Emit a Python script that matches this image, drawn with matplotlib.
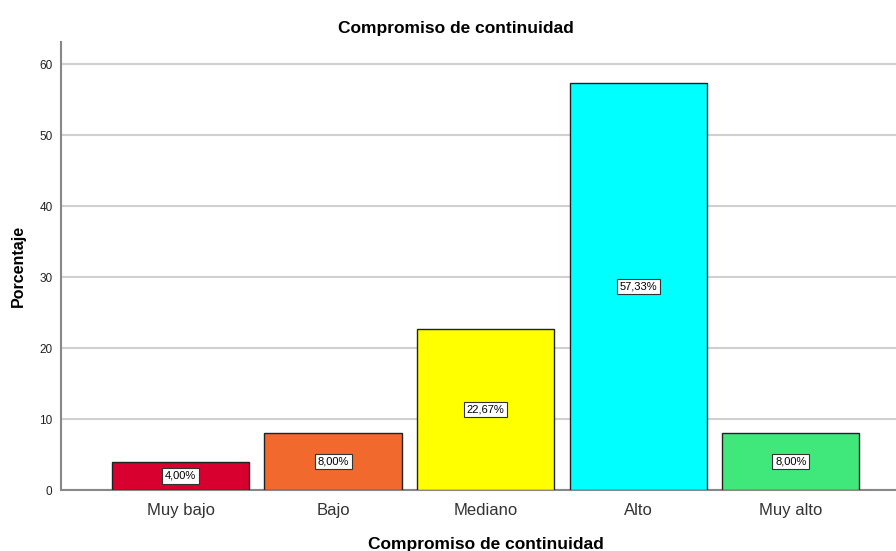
import numpy as np
import matplotlib.pyplot as plt

plt.rcParams['font.family'] = ['Liberation Sans', 'DejaVu Sans']

# frequencies by level
categorias = ['Muy bajo', 'Bajo', 'Mediano', 'Alto', 'Muy alto']
porcentajes = [4.00, 8.00, 22.67, 57.33, 8.00]
colores = ['#D7002E', '#F2692D', '#FFFF00', '#00FFFF', '#40E87C']

fig = plt.figure(figsize=(8.96, 5.51), dpi=100)
ax = fig.add_axes([0.068, 0.1107, 0.95, 0.813])

x = np.arange(len(categorias))
ax.bar(x, porcentajes, width=0.9, color=colores, edgecolor='#222222',
       linewidth=1.0, zorder=3)

# value boxes at mid-height of each bar
for xi, v in zip(x, porcentajes):
    ax.text(xi, v / 2, f'{v:.2f}%'.replace('.', ','), ha='center', va='center',
            fontsize=8, zorder=4,
            bbox=dict(boxstyle='square,pad=0.25', fc='white', ec='#333333', lw=0.8))

ax.set_xlim(-0.784, 4.796)
ax.set_ylim(0, 63.1)
ax.set_yticks(range(0, 61, 10))
ax.set_xticks(x)
ax.set_xticklabels(categorias, fontsize=12, color='#333333')
ax.tick_params(axis='y', labelsize=8.5, length=0, pad=6, colors='#222222')
ax.tick_params(axis='x', length=0, pad=9)
ax.yaxis.grid(True, color='#D0D0D0', linewidth=1.5, zorder=0)
ax.set_axisbelow(True)

for s in ['top', 'right']:
    ax.spines[s].set_visible(False)
ax.spines['left'].set_color('#888888')
ax.spines['bottom'].set_color('#888888')
ax.spines['left'].set_linewidth(1.5)
ax.spines['bottom'].set_linewidth(1.5)

fig.text(456 / 896, 1 - 28 / 551, 'Compromiso de continuidad', fontsize=12.5,
         fontweight='bold', ha='center', va='center')
ax.set_ylabel('Porcentaje', fontsize=11.5, fontweight='bold', labelpad=10)
fig.text(486 / 896, 1 - 544 / 551, 'Compromiso de continuidad', fontsize=12.5,
         fontweight='bold', ha='center', va='center')

fig.savefig('out.png', dpi=100)
